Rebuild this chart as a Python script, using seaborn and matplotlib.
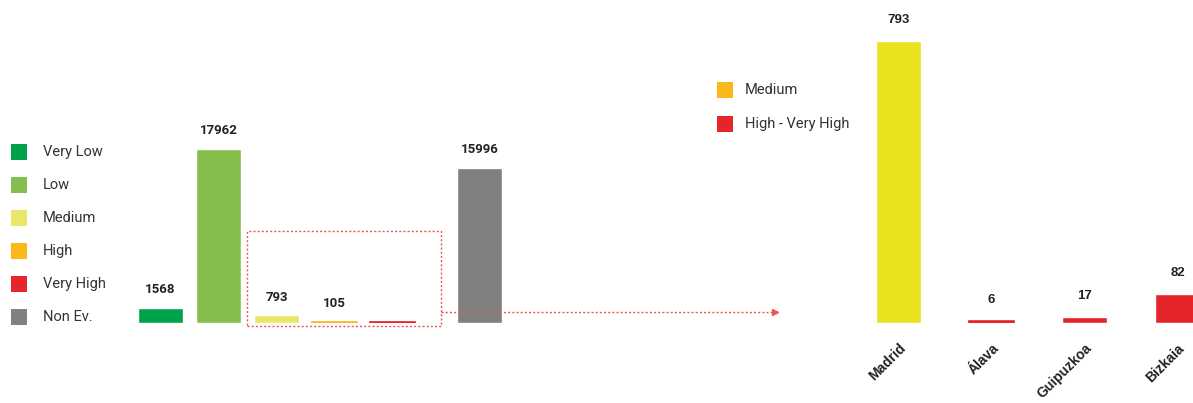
import matplotlib
matplotlib.use("Agg")
import matplotlib.pyplot as plt
from matplotlib.patches import Rectangle
from matplotlib.lines import Line2D
import numpy as np
import seaborn as sns

# Risk levels (left panel)
levels = ["Very Low", "Low", "Medium", "High", "Very High", "Non Ev."]
level_counts = [1568, 17962, 793, 105, 100, 15996]
level_labelled = [True, True, True, True, False, True]
level_colors = ["#00A14B", "#86BE4D", "#E9E66A", "#FBB81B", "#E4262B", "#808080"]

# Breakdown by province (right panel)
regions = ["Madrid", "Álava", "Guipuzkoa", "Bizkaia"]
region_counts = [793, 6, 17, 82]
region_colors = ["#EAE21E", "#E4262B", "#E4262B", "#E4262B"]
region_legend = ["Medium", "High - Very High"]
region_legend_colors = ["#FBB81B", "#E4262B"]

sns.set_theme(style="white")
plt.rcParams["font.family"] = ["Roboto", "DejaVu Sans"]

W, H = 1193, 403
fig = plt.figure(figsize=(W / 100, H / 100), dpi=100)


def fx(px):
    return px / W


def fy(py):
    return 1 - py / H


TEXT = "#333333"
LINE = "#EE5555"


def thicken_small_bars(ax, min_px=2.5):
    """Give very short bars a same-coloured outline so they stay visible."""
    for bar in ax.patches:
        y0 = ax.transData.transform((0, 0))[1]
        y1 = ax.transData.transform((0, bar.get_height()))[1]
        if abs(y1 - y0) < min_px:
            bar.set_edgecolor(bar.get_facecolor())
            bar.set_linewidth(1.2)


# ---- left panel ----
ax1 = fig.add_axes([fx(114.1), fy(323), 411.8 / W, 283 / H])
left_pos = np.array([0, 1, 2, 3, 4, 5.5])
sns.barplot(x=left_pos, y=level_counts, hue=levels,
            palette=dict(zip(levels, level_colors)), native_scale=True,
            dodge=False, width=0.78, saturation=1, legend=False, ax=ax1)
ax1.set_xlim(-0.8, 6.3)
ax1.set_ylim(0, 29214)
ax1.axis("off")
thicken_small_bars(ax1)
for p, v, show in zip(left_pos, level_counts, level_labelled):
    if show:
        ax1.annotate(f"{v}", (p, v), xytext=(0, 13), textcoords="offset points",
                     ha="center", va="center", fontsize=9.5, fontweight="bold",
                     color="#222222")

# legend of risk levels
for i, (name, col) in enumerate(zip(levels, level_colors)):
    yc = 152 + 33 * i
    fig.add_artist(Rectangle((fx(11), fy(yc + 8)), 16 / W, 16 / H,
                             transform=fig.transFigure, color=col, lw=0))
    fig.text(fx(43), fy(yc), name, ha="left", va="center", fontsize=10.5,
             color=TEXT)

# ---- right panel ----
ax2 = fig.add_axes([fx(842.7), fy(323), (1193 - 842.7) / W, 283 / H])
right_pos = np.arange(len(regions))
sns.barplot(x=right_pos, y=region_counts, hue=regions,
            palette=dict(zip(regions, region_colors)), native_scale=True,
            dodge=False, width=0.484, saturation=1, legend=False, ax=ax2)
ax2.set_xlim(-0.6, 3.167)
ax2.set_ylim(0, 795.8)
thicken_small_bars(ax2)
for s in ax2.spines.values():
    s.set_visible(False)
ax2.set_yticks([])
ax2.set_xlabel("")
ax2.set_ylabel("")
ax2.set_xticks(right_pos)
ax2.set_xticklabels(regions, rotation=45, ha="right", rotation_mode="anchor",
                    fontsize=10, fontweight="bold",
                    family=["Liberation Sans", "DejaVu Sans"], color="#222222")
ax2.tick_params(axis="x", length=0, pad=13)
for p, v in zip(right_pos, region_counts):
    ax2.annotate(f"{v}", (p, v), xytext=(0, 15), textcoords="offset points",
                 ha="center", va="center", fontsize=9.5, fontweight="bold",
                 family=["Liberation Sans", "DejaVu Sans"], color="#222222")

# legend of the breakdown
for i, (name, col) in enumerate(zip(region_legend, region_legend_colors)):
    yc = 90 + 34 * i
    fig.add_artist(Rectangle((fx(717), fy(yc + 8)), 16 / W, 16 / H,
                             transform=fig.transFigure, color=col, lw=0))
    fig.text(fx(745), fy(yc), name, ha="left", va="center", fontsize=10.5,
             color=TEXT)

# dotted box around the medium / high bars and the link to the breakdown
fig.add_artist(Rectangle((fx(247), fy(326)), (441 - 247) / W, (326 - 231) / H,
                         transform=fig.transFigure, fill=False, ec=LINE,
                         ls=(0, (1.5, 1.5)), lw=1))
fig.add_artist(Line2D([fx(441), fx(774)], [fy(312), fy(312)],
                      transform=fig.transFigure, color=LINE, lw=1,
                      ls=(0, (1.5, 1.5))))
fig.add_artist(Line2D([fx(775)], [fy(312)], transform=fig.transFigure,
                      color=LINE, marker=">", ms=4, lw=0))

fig.savefig("out.png", dpi=100)
